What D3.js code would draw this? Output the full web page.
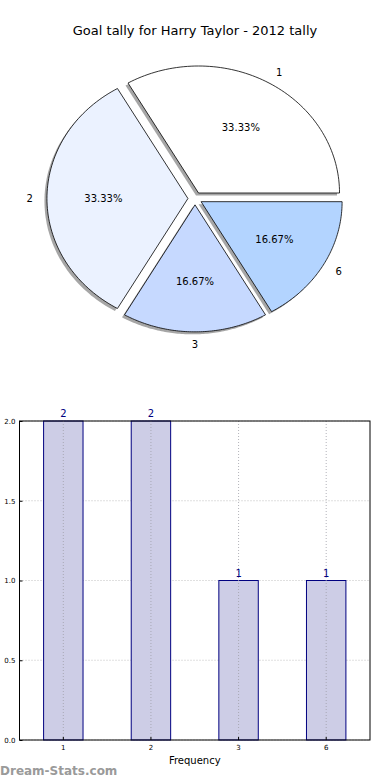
<!DOCTYPE html>
<html>
<head>
<meta charset="utf-8">
<script src="https://cdn.jsdelivr.net/npm/d3@7"></script>
<style>
  body { margin: 0; background: #fff; }
  svg { font-family: "DejaVu Sans", sans-serif; }
</style>
</head>
<body>
<svg id="chart" width="390" height="780"></svg>
<script>
// chart data
var categories = ["1", "2", "3", "6"];
var counts = [2, 2, 1, 1];
var sliceColors = ["#ffffff", "#ebf2ff", "#c6d9ff", "#b3d4ff"];
var yTicks = [0.0, 0.5, 1.0, 1.5, 2.0];

var svg = d3.select("#chart");

// ---- title
svg.append("text")
    .attr("x", 195)
    .attr("y", 35)
    .attr("text-anchor", "middle")
    .style("font-size", "13px")
    .text("Goal tally for Harry Taylor - 2012 tally");

// ---- pie (elliptical, exploded, with shadow)
var cx = 195, cy = 198.5, rx = 141, ry = 127;
var explode = 0.05;
var total = d3.sum(counts);

// angles counter-clockwise from east, like matplotlib
var pieData = d3.pie().sort(null).value(function (d) { return d; })
    .startAngle(0).endAngle(2 * Math.PI)(counts);

var wedgePath = function (a0, a1) {
    let pts = [[0, 0]];
    let n = 80;
    for (let k = 0; k <= n; k++) {
        let a = a0 + (a1 - a0) * k / n;
        pts.push([Math.cos(a) * rx, -Math.sin(a) * ry]);
    }
    return d3.line()(pts) + "Z";
};

var pieG = svg.append("g");

pieData.forEach(function (d, i) {
    let a0 = d.startAngle, a1 = d.endAngle;
    let mid = (a0 + a1) / 2;
    let ox = cx + explode * rx * Math.cos(mid);
    let oy = cy - explode * ry * Math.sin(mid);
    let path = wedgePath(a0, a1);

    // shadow
    pieG.append("path")
        .attr("d", path)
        .attr("transform", "translate(" + (ox - 2.5) + "," + (oy + 2.5) + ")")
        .attr("fill", "#4d4d4d")
        .attr("opacity", 0.5);

    pieG.append("path")
        .attr("d", path)
        .attr("transform", "translate(" + ox + "," + oy + ")")
        .attr("fill", sliceColors[i])
        .attr("stroke", "#000")
        .attr("stroke-width", 0.8);

    d.ox = ox; d.oy = oy; d.mid = mid;
});

pieData.forEach(function (d, i) {
    // percent label
    let pct = d.value / total * 100;
    pieG.append("text")
        .attr("x", d.ox + 0.6 * rx * Math.cos(d.mid))
        .attr("y", d.oy - 0.6 * ry * Math.sin(d.mid))
        .attr("text-anchor", "middle")
        .attr("dy", "0.35em")
        .style("font-size", "10px")
        .text(pct.toFixed(2) + "%");

    // category label
    let lx = d.ox + 1.1 * rx * Math.cos(d.mid);
    let ly = d.oy - 1.1 * ry * Math.sin(d.mid);
    let c = Math.cos(d.mid);
    pieG.append("text")
        .attr("x", lx)
        .attr("y", ly)
        .attr("text-anchor", Math.abs(c) < 0.01 ? "middle" : (c > 0 ? "start" : "end"))
        .attr("dy", "0.35em")
        .style("font-size", "10px")
        .text(categories[i]);
});

// ---- bar chart
var plotLeft = 19.5, plotRight = 370, plotTop = 421, plotBottom = 740;

var x = d3.scaleBand()
    .domain(categories)
    .range([plotLeft, plotRight])
    .paddingInner(0.55)
    .paddingOuter(0.275);

var y = d3.scaleLinear()
    .domain([0, 2])
    .range([plotBottom, plotTop]);

var bar = svg.append("g");

// horizontal grid
bar.selectAll(".gy")
    .data(yTicks)
    .enter()
    .append("line")
    .attr("x1", plotLeft).attr("x2", plotRight)
    .attr("y1", function (d) { return y(d); })
    .attr("y2", function (d) { return y(d); })
    .attr("stroke", "#b0b0b0")
    .attr("stroke-width", 0.8)
    .attr("stroke-dasharray", "1,2");

// bars
bar.selectAll("rect.bar")
    .data(counts)
    .enter()
    .append("rect")
    .attr("class", "bar")
    .attr("x", function (d, i) { return x(categories[i]); })
    .attr("y", function (d) { return y(d); })
    .attr("width", x.bandwidth())
    .attr("height", function (d) { return plotBottom - y(d); })
    .attr("fill", "#cdcde6")
    .attr("stroke", "#000080")
    .attr("stroke-width", 1);

// vertical grid (drawn over bars)
bar.selectAll(".gx")
    .data(categories)
    .enter()
    .append("line")
    .attr("x1", function (d) { return x(d) + x.bandwidth() / 2; })
    .attr("x2", function (d) { return x(d) + x.bandwidth() / 2; })
    .attr("y1", plotTop).attr("y2", plotBottom)
    .attr("stroke", "#a0a0a8")
    .attr("stroke-width", 0.8)
    .attr("stroke-dasharray", "1,2");

// value labels
bar.selectAll(".vl")
    .data(counts)
    .enter()
    .append("text")
    .attr("x", function (d, i) { return x(categories[i]) + x.bandwidth() / 2; })
    .attr("y", function (d) { return y(d) - 4; })
    .attr("text-anchor", "middle")
    .attr("fill", "#000080")
    .style("font-size", "10px")
    .text(function (d) { return d; });

// frame
bar.append("rect")
    .attr("x", plotLeft).attr("y", plotTop)
    .attr("width", plotRight - plotLeft).attr("height", plotBottom - plotTop)
    .attr("fill", "none")
    .attr("stroke", "#000")
    .attr("stroke-width", 1);

// axes
var yAxis = d3.axisLeft(y).tickValues(yTicks).tickFormat(d3.format(".1f"))
    .tickSize(-3).tickPadding(4);
var gy = svg.append("g").attr("transform", "translate(" + plotLeft + ",0)").call(yAxis);
gy.select(".domain").remove();
gy.selectAll("text").style("font-size", "7px").style("font-family", "DejaVu Sans");

var xAxis = d3.axisBottom(x).tickSize(-3).tickPadding(5);
var gx = svg.append("g").attr("transform", "translate(0," + plotBottom + ")").call(xAxis);
gx.select(".domain").remove();
gx.selectAll("text").style("font-size", "7px").style("font-family", "DejaVu Sans");

svg.append("text")
    .attr("x", (plotLeft + plotRight) / 2)
    .attr("y", 764)
    .attr("text-anchor", "middle")
    .style("font-size", "10px")
    .text("Frequency");

// watermark
svg.append("text")
    .attr("x", 0)
    .attr("y", 775)
    .attr("fill", "#9a9a9a")
    .style("font-size", "12px")
    .style("font-weight", "bold")
    .text("Dream-Stats.com");
</script>
</body>
</html>
